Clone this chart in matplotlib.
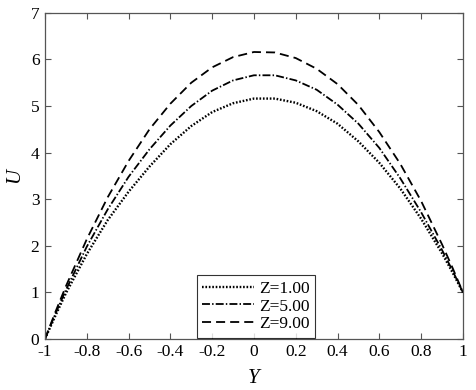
import matplotlib
matplotlib.use('Agg')
import matplotlib.pyplot as plt

# values
y_pos = [-1.0, -0.95, -0.9, -0.8, -0.7, -0.6, -0.5, -0.4, -0.3, -0.2, -0.1,
         0.0, 0.1, 0.2, 0.3, 0.4, 0.5, 0.6, 0.7, 0.8, 0.9, 0.95, 1.0]
u_z1 = [0.0, 0.50, 0.98, 1.82, 2.55, 3.16, 3.70, 4.18, 4.57, 4.87, 5.06,
        5.16, 5.16, 5.07, 4.89, 4.62, 4.24, 3.78, 3.23, 2.58, 1.84, 1.43, 1.0]
u_z5 = [0.0, 0.54, 1.05, 1.98, 2.78, 3.48, 4.07, 4.58, 5.00, 5.33, 5.55,
        5.66, 5.66, 5.55, 5.35, 5.03, 4.62, 4.10, 3.45, 2.72, 1.91, 1.47, 1.0]
u_z9 = [0.0, 0.58, 1.13, 2.14, 3.04, 3.82, 4.50, 5.05, 5.50, 5.83, 6.05,
        6.16, 6.15, 6.03, 5.80, 5.47, 5.02, 4.44, 3.76, 2.96, 2.03, 1.53, 1.0]
labels = ['Z=1.00', 'Z=5.00', 'Z=9.00']

plt.rcParams['font.family'] = ['Liberation Serif', 'DejaVu Serif']
plt.rcParams['axes.unicode_minus'] = False

fig = plt.figure(figsize=(4.76, 3.9), dpi=100)
ax = fig.add_axes([0.0945, 0.131, 0.878, 0.836])

ax.plot(y_pos, u_z1, color='black', lw=1.7, linestyle=(0, (0.7, 0.75)), label=labels[0])
ax.plot(y_pos, u_z5, color='black', lw=1.3, linestyle=(0, (4.4, 1.2, 0.8, 1.2)), label=labels[1])
ax.plot(y_pos, u_z9, color='black', lw=1.3, linestyle=(0, (5, 2.8)), label=labels[2])

ax.set_xlim(-1, 1)
ax.set_ylim(0, 7)
ax.set_xticks([-1, -0.8, -0.6, -0.4, -0.2, 0, 0.2, 0.4, 0.6, 0.8, 1])
ax.set_xticklabels(['-1', '-0.8', '-0.6', '-0.4', '-0.2', '0', '0.2', '0.4', '0.6', '0.8', '1'])
ax.set_yticks(range(8))
ax.tick_params(direction='in', top=True, right=True, length=4, width=0.8,
               color='#555555', labelsize=12.5, pad=4)
for s in ax.spines.values():
    s.set_color('#555555')
    s.set_linewidth(0.9)

ax.set_xlabel('Y', fontstyle='italic', fontsize=15, labelpad=6)
ax.set_ylabel('U', fontstyle='italic', fontsize=15, labelpad=5)

leg = ax.legend(loc='lower center', bbox_to_anchor=(0.505, 0.004), fontsize=12.5,
                frameon=True, fancybox=False, handlelength=3.0, borderpad=0.3,
                labelspacing=0.1, handletextpad=0.3, borderaxespad=0.0)
leg.get_frame().set_edgecolor('black')
leg.get_frame().set_linewidth(0.8)

fig.savefig('out.png', dpi=100)
